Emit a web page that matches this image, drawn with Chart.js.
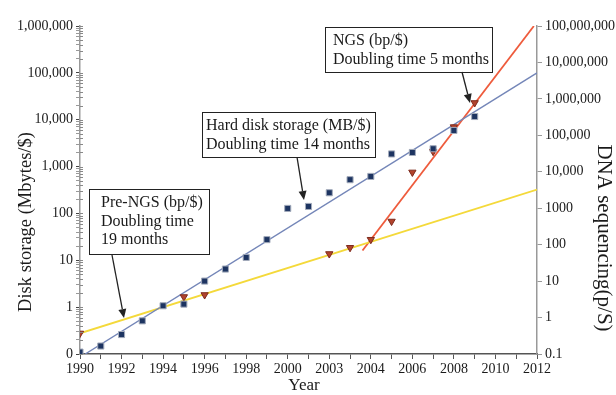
<!DOCTYPE html>
<html>
<head>
<meta charset="utf-8">
<style>
  html, body { margin: 0; padding: 0; background: #fff; }
  #wrap { width: 616px; height: 395px; }
</style>
</head>
<body>
<div id="wrap"><canvas id="myChart" width="616" height="395"></canvas></div>
<script src="https://cdn.jsdelivr.net/npm/chart.js@4.4.1/dist/chart.umd.min.js"></script>
<script>
// hard disk storage, MB per dollar (left axis)
const diskYears = [1990, 1991, 1992, 1993, 1994, 1995, 1996, 1997, 1998, 1999, 2000, 2001, 2002, 2003, 2004, 2005, 2006, 2007, 2008, 2009];
const diskValues = [0.11, 0.148, 0.26, 0.51, 1.07, 1.16, 3.6, 6.5, 11.5, 27.6, 128, 141, 276, 525, 616, 1860, 2000, 2400, 5900, 11700];

// DNA sequencing, bp per dollar (right axis)
const seqYears = [1990, 1995, 1996, 2002, 2003, 2004, 2005, 2006, 2007, 2008, 2009];
const seqValues = [0.37, 3.7, 4.2, 56, 83, 138, 436, 9700, 36000, 170000, 780000];

// trend lines (end points)
const diskTrendYears = [1990.25, 2012];
const diskTrendValues = [0.1, 100000];
const preNgsYears = [1990, 2012];
const preNgsValues = [0.37, 3250];
const ngsYears = [2003.6, 2011.85];
const ngsValues = [69, 100000000];

// axis labels
const xTickYears = [1990, 1992, 1994, 1996, 1998, 2000, 2002, 2004, 2006, 2008, 2010, 2012];
const xTickLabels = ['1990', '1992', '1994', '1996', '1998', '2000', '2003', '2004', '2006', '2008', '2010', '2012'];
const leftTicks = [0.1, 1, 10, 100, 1000, 10000, 100000, 1000000];
const leftTickLabels = ['0', '1', '10', '100', '1,000', '10,000', '100,000', '1,000,000'];
const rightTicks = [0.1, 1, 10, 100, 1000, 10000, 100000, 1000000, 10000000, 100000000];
const rightTickLabels = ['0.1', '1', '10', '100', '1000', '10,000', '100,000', '1,000,000', '10,000,000', '100,000,000'];

const notes = [
  { box: [89, 189, 120, 65], textX: 101, lines: ['Pre-NGS (bp/$)', 'Doubling time', '19 months'], arrow: [112, 255, 124, 318] },
  { box: [202, 112, 173, 45], textX: 206, lines: ['Hard disk storage (MB/$)', 'Doubling time 14 months'], arrow: [297, 157, 304, 200] },
  { box: [325, 27, 167, 45], textX: 333, lines: ['NGS (bp/$)', 'Doubling time 5 months'], arrow: [462, 72, 470, 103] },
];

const serif = '"Liberation Serif", "Times New Roman", serif';

function toPoints(xs, ys) {
  return xs.map((x, i) => ({ x: x, y: ys[i] }));
}

const decorations = {
  id: 'decorations',
  afterDraw(chart) {
    const ctx = chart.ctx;
    const yScale = chart.scales.y;
    const left = chart.chartArea.left;
    ctx.save();

    // left axis ticks cross the axis line
    ctx.strokeStyle = '#888';
    ctx.lineWidth = 1;
    yScale.ticks.forEach(t => {
      const py = Math.round(yScale.getPixelForValue(t.value)) + 0.5;
      ctx.beginPath();
      ctx.moveTo(left, py);
      ctx.lineTo(left + 3, py);
      ctx.stroke();
    });

    // axis titles
    ctx.fillStyle = '#1a1a1a';
    ctx.textAlign = 'center';
    ctx.textBaseline = 'middle';
    ctx.font = '18.5px ' + serif;
    ctx.save();
    ctx.translate(26, 222);
    ctx.rotate(-Math.PI / 2);
    ctx.fillText('Disk storage (Mbytes/$)', 0, 0);
    ctx.restore();

    ctx.font = '21px ' + serif;
    ctx.save();
    ctx.translate(604, 238);
    ctx.rotate(Math.PI / 2);
    ctx.fillText('DNA sequencing(p/S)', 0, 0);
    ctx.restore();

    ctx.font = '17px ' + serif;
    ctx.fillText('Year', 304, 386);

    // annotation boxes with arrows
    ctx.font = '16px ' + serif;
    ctx.textAlign = 'left';
    notes.forEach(n => {
      const [bx, by, bw, bh] = n.box;
      ctx.fillStyle = '#fff';
      ctx.fillRect(bx, by, bw, bh);
      ctx.strokeStyle = '#222';
      ctx.lineWidth = 1;
      ctx.strokeRect(bx + 0.5, by + 0.5, bw, bh);
      ctx.fillStyle = '#1a1a1a';
      n.lines.forEach((line, i) => {
        ctx.fillText(line, n.textX, by + 14 + i * 18.5);
      });

      const [x1, y1, x2, y2] = n.arrow;
      const ang = Math.atan2(y2 - y1, x2 - x1);
      const headLen = 9;
      const headW = 4;
      const bxEnd = x2 - headLen * Math.cos(ang);
      const byEnd = y2 - headLen * Math.sin(ang);
      ctx.strokeStyle = '#222';
      ctx.lineWidth = 1.3;
      ctx.beginPath();
      ctx.moveTo(x1, y1);
      ctx.lineTo(bxEnd, byEnd);
      ctx.stroke();
      ctx.fillStyle = '#222';
      ctx.beginPath();
      ctx.moveTo(x2, y2);
      ctx.lineTo(bxEnd + headW * Math.sin(ang), byEnd - headW * Math.cos(ang));
      ctx.lineTo(bxEnd - headW * Math.sin(ang), byEnd + headW * Math.cos(ang));
      ctx.closePath();
      ctx.fill();
    });

    ctx.restore();
  }
};

const ctx = document.getElementById('myChart').getContext('2d');
const myChart = new Chart(ctx, {
  type: 'scatter',
  data: {
    datasets: [
      {
        label: 'Hard disk storage',
        data: toPoints(diskYears, diskValues),
        yAxisID: 'y',
        pointStyle: 'rect',
        pointRadius: 4.3,
        backgroundColor: '#1d3461',
        borderColor: '#a3abbb',
        borderWidth: 1,
        order: 1,
      },
      {
        label: 'DNA sequencing',
        data: toPoints(seqYears, seqValues),
        yAxisID: 'y2',
        pointStyle: 'triangle',
        rotation: 180,
        pointRadius: 4.2,
        backgroundColor: '#b2432d',
        borderColor: '#7d2a1c',
        borderWidth: 1,
        order: 1,
      },
      {
        type: 'line',
        label: 'Disk trend',
        data: toPoints(diskTrendYears, diskTrendValues),
        yAxisID: 'y',
        borderColor: '#7486b8',
        borderWidth: 1.4,
        pointRadius: 0,
        order: 2,
      },
      {
        type: 'line',
        label: 'Pre-NGS trend',
        data: toPoints(preNgsYears, preNgsValues),
        yAxisID: 'y2',
        borderColor: '#f4d93a',
        borderWidth: 1.8,
        pointRadius: 0,
        order: 2,
      },
      {
        type: 'line',
        label: 'NGS trend',
        data: toPoints(ngsYears, ngsValues),
        yAxisID: 'y2',
        borderColor: '#ee5b3c',
        borderWidth: 1.8,
        pointRadius: 0,
        order: 2,
      },
    ]
  },
  options: {
    responsive: false,
    animation: false,
    layout: { padding: { top: 26, left: 0, right: 0, bottom: 0 } },
    plugins: {
      legend: { display: false },
      tooltip: { enabled: false },
    },
    scales: {
      x: {
        type: 'linear',
        min: 1990,
        max: 2012,
        afterBuildTicks: (axis) => {
          const ticks = [];
          for (let yr = 1990; yr <= 2012; yr++) ticks.push({ value: yr });
          axis.ticks = ticks;
        },
        afterFit: (scale) => { scale.height = 41; },
        ticks: {
          autoSkip: false,
          maxRotation: 0,
          padding: 2,
          color: '#1a1a1a',
          font: { family: serif, size: 14 },
          callback: (value) => {
            const i = xTickYears.indexOf(value);
            return i >= 0 ? xTickLabels[i] : '';
          }
        },
        grid: { drawOnChartArea: false, tickLength: 5, tickColor: '#555' },
        border: { color: '#555', width: 1.5 },
      },
      y: {
        type: 'logarithmic',
        position: 'left',
        min: 0.1,
        max: 1000000,
        afterBuildTicks: (axis) => {
          const ticks = [];
          for (let k = 0; k < leftTicks.length - 1; k++) {
            ticks.push({ value: leftTicks[k], major: true });
            for (let m = 2; m <= 9; m++) {
              ticks.push({ value: Number((m * leftTicks[k]).toPrecision(6)), major: false });
            }
          }
          ticks.push({ value: leftTicks[leftTicks.length - 1], major: true });
          axis.ticks = ticks;
        },
        afterFit: (scale) => { scale.width = 80; },
        ticks: {
          autoSkip: false,
          padding: 3,
          color: '#1a1a1a',
          font: { family: serif, size: 14 },
          callback: (value) => {
            const i = leftTicks.indexOf(value);
            return i >= 0 ? leftTickLabels[i] : '';
          }
        },
        grid: {
          drawOnChartArea: false,
          tickLength: 4,
          tickColor: (c) => (c.tick && c.tick.major ? '#444' : '#999'),
        },
        border: { color: '#999', width: 1.5 },
      },
      y2: {
        type: 'logarithmic',
        position: 'right',
        min: 0.1,
        max: 100000000,
        afterBuildTicks: (axis) => {
          axis.ticks = rightTicks.map(v => ({ value: v, major: true }));
        },
        afterFit: (scale) => { scale.width = 79; },
        ticks: {
          autoSkip: false,
          padding: 3,
          color: '#1a1a1a',
          font: { family: serif, size: 14 },
          callback: (value) => {
            const i = rightTicks.indexOf(value);
            return i >= 0 ? rightTickLabels[i] : '';
          }
        },
        grid: { drawOnChartArea: false, tickLength: 5, tickColor: '#999' },
        border: { color: '#999', width: 1.5 },
      },
    }
  },
  plugins: [decorations]
});
</script>
</body>
</html>
